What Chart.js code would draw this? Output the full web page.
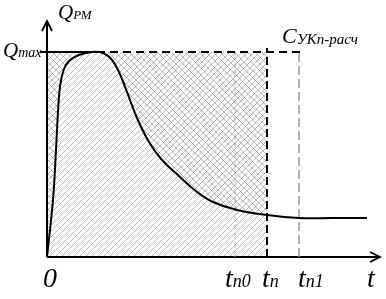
<!DOCTYPE html>
<html>
<head>
<meta charset="utf-8">
<script src="https://cdn.jsdelivr.net/npm/chart.js@4/dist/chart.umd.min.js"></script>
<style>
html,body{margin:0;padding:0;background:#fff;}
canvas{display:block;}
</style>
</head>
<body>
<canvas id="c" width="386" height="299"></canvas>
<script>
// Time values of the curve Q_PM(t) (schematic units)
const tVals = [0, 6, 9, 11, 13, 17, 23, 32, 45, 56, 65, 72, 80, 90, 102, 115, 133, 150, 166, 190, 220, 252, 285, 320];
// Q_PM values
const qVals = [0, 57, 107, 145, 170, 188, 197, 202, 205, 204, 197, 185, 165, 139, 115, 97, 80, 65, 55, 47, 42, 39, 39, 39];
// Marked levels / moments
const qMax = 205;
const tn0 = 188, tn = 220, tn1 = 252;
const tAxisEnd = 333, qAxisEnd = 236;
const qMaxLineEnd = 258;
// Tick labels on the time axis
const xTickMain = ['0', 't', 't', 't', 't'];
const xTickSub  = ['', 'n0', 'n', 'n1', ''];
const xTickAt   = [-4, 178, 215, 251, 320];

const curve = tVals.map((t, i) => ({x: t, y: qVals[i]}));

function hatch(dir, s, color) {
  const c = document.createElement('canvas');
  c.width = s; c.height = s;
  const g = c.getContext('2d');
  g.strokeStyle = color; g.lineWidth = 1;
  g.beginPath();
  if (dir === '/') {
    for (let k = -1; k <= 1; k++) { g.moveTo(k * s - 1, s + 1); g.lineTo(k * s + s + 1, -1); }
  } else {
    for (let k = -1; k <= 1; k++) { g.moveTo(k * s - 1, -1); g.lineTo(k * s + s + 1, s + 1); }
  }
  g.stroke();
  return document.getElementById('c').getContext('2d').createPattern(c, 'repeat');
}
const patSlash = hatch('/', 6, 'rgba(0,0,0,0.27)');
const patBack = hatch('\\', 7, 'rgba(0,0,0,0.27)');

const line = (pts, color, width, dash, extra) => Object.assign({
  data: pts, borderColor: color, borderWidth: width, borderDash: dash || [],
  pointRadius: 0, fill: false, tension: 0
}, extra || {});

const labelsPlugin = {
  id: 'labels',
  afterDraw(chart) {
    const ctx = chart.ctx, xs = chart.scales.x, ys = chart.scales.y;
    const sub = (main, s, x, y, mf, sf, dy) => {
      ctx.font = mf; ctx.fillText(main, x, y);
      const w = ctx.measureText(main).width;
      ctx.font = sf; ctx.fillText(s, x + w, y + (dy || 0));
    };
    ctx.save();
    ctx.fillStyle = '#000';
    ctx.textBaseline = 'alphabetic';
    const base = ys.getPixelForValue(-30);
    for (let i = 0; i < xTickMain.length; i++) {
      sub(xTickMain[i], xTickSub[i], xs.getPixelForValue(xTickAt[i]), base,
          "italic 28px 'Liberation Serif'", "italic 18px 'Liberation Serif'", 0);
    }
    sub('Q', 'РМ', xs.getPixelForValue(11), ys.getPixelForValue(238), "italic 21px 'Liberation Serif'", "italic 13px 'Liberation Serif'", 0);
    sub('Q', 'max', xs.getPixelForValue(-44), ys.getPixelForValue(200), "italic 21px 'Liberation Serif'", "italic 14px 'Liberation Serif'", 0);
    sub('C', 'УКп-расч', xs.getPixelForValue(235), ys.getPixelForValue(214), "italic 22px 'Liberation Serif'", "italic 15px 'Liberation Serif'", 1);
    ctx.restore();
  }
};

new Chart(document.getElementById('c'), {
  type: 'line',
  data: {
    datasets: [
      line([{x: 0, y: qMax}, {x: tn, y: qMax}], 'rgba(0,0,0,0)', 0, null, {fill: 'origin', backgroundColor: patSlash}),
      line([{x: 0, y: qMax}, {x: tn, y: qMax}], 'rgba(0,0,0,0)', 0, null, {fill: {target: 2, above: patBack, below: patBack}}),
      line(curve, '#000', 2, null, {tension: 0.4}),
      line([{x: -7, y: qMax}, {x: 50, y: qMax}], '#000', 2),
      line([{x: 50, y: qMax}, {x: qMaxLineEnd, y: qMax}], '#000', 2, [8, 5]),
      line([{x: tn0, y: 0}, {x: tn0, y: qMax}], '#c4c4c4', 1, [6, 3]),
      line([{x: tn, y: 0}, {x: tn, y: qMax + 4}], '#000', 2, [8, 4]),
      line([{x: tn1, y: 0}, {x: tn1, y: qMax}], '#9a9a9a', 1.5, [9, 4]),
      line([{x: 0, y: 0}, {x: tAxisEnd, y: 0}], '#000', 2),
      line([{x: 0, y: 0}, {x: 0, y: qAxisEnd}], '#000', 2),
      line([{x: tAxisEnd - 10, y: 5}, {x: tAxisEnd, y: 0}, {x: tAxisEnd - 10, y: -5}], '#000', 1.8),
      line([{x: -5, y: qAxisEnd - 10}, {x: 0, y: qAxisEnd}, {x: 5, y: qAxisEnd - 10}], '#000', 1.8)
    ]
  },
  options: {
    responsive: false,
    animation: false,
    devicePixelRatio: 1,
    layout: {padding: 0},
    events: [],
    scales: {
      x: {type: 'linear', min: -47, max: 339, display: false},
      y: {type: 'linear', min: -42, max: 257, display: false}
    },
    plugins: {legend: {display: false}, tooltip: {enabled: false}}
  },
  plugins: [labelsPlugin]
});
</script>
</body>
</html>
